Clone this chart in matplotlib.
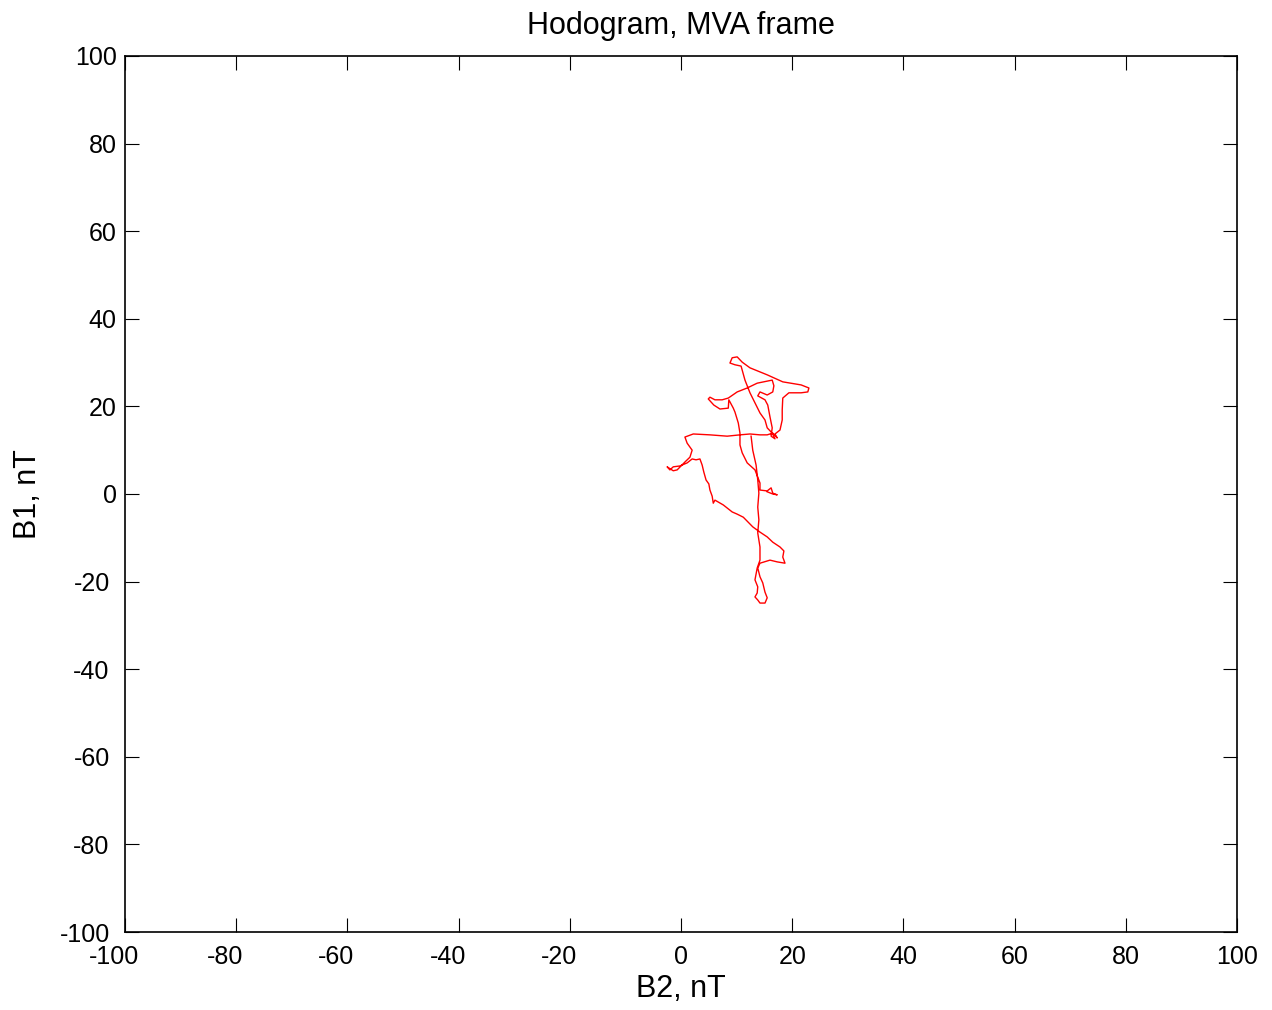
import matplotlib
matplotlib.use("Agg")
import matplotlib.pyplot as plt
import matplotlib.transforms as mtransforms

# hodogram trace in the MVA frame (nT)
b2 = [12.6, 12.9, 13.5, 13.8, 14.0, 13.8, 14.0, 13.8, 14.2, 14.2,
      13.7, 13.3, 13.8, 13.7, 13.3, 13.8, 14.2, 15.1, 15.5, 15.1,
      14.7, 14.2, 13.8, 14.2, 16.0, 17.3, 18.7, 18.3, 18.5, 17.8,
      16.5, 15.5, 14.2, 12.9, 11.2, 10.1, 9.2, 7.6, 6.1, 5.8,
      5.6, 5.2, 5.0, 4.5, 4.1, 3.8, 3.4, 2.7, 2.0, 1.1,
      -0.2, -1.4, -2.0, -2.5, -1.4, -0.7, 0.7, 1.6, 2.0, 1.1,
      0.7, 2.2, 5.2, 8.3, 10.6, 12.4, 14.2, 15.5, 16.5, 17.3,
      16.9, 17.8, 18.2, 18.2, 18.3, 19.4, 21.6, 22.8, 23.0, 21.6,
      18.3, 15.5, 12.4, 11.0, 10.1, 9.2, 8.8, 9.7, 10.8, 11.5,
      12.4, 13.3, 14.2, 15.1, 15.5, 16.4, 16.9, 16.2, 16.4, 16.0,
      15.6, 15.1, 13.8, 14.2, 15.5, 16.5, 16.7, 16.4, 13.7, 11.9,
      10.1, 8.5, 7.4, 6.1, 5.2, 4.9, 5.9, 7.0, 8.5, 8.6,
      9.4, 9.7, 10.3, 10.6, 10.6, 11.0, 11.9, 13.3, 14.2, 14.2,
      15.5, 16.2, 16.5, 17.3, 16.5, 15.5]
b1 = [13.2, 10.0, 6.6, 3.2, 0.2, -3.0, -5.9, -8.9, -12.1, -15.1,
      -16.9, -19.6, -21.2, -22.6, -23.5, -24.2, -24.9, -24.9, -23.7, -22.4,
      -20.3, -18.9, -16.9, -15.8, -15.1, -15.5, -15.8, -14.4, -13.0, -12.1,
      -11.0, -9.8, -8.7, -7.5, -5.3, -4.6, -4.1, -2.5, -1.4, -2.1,
      -0.5, 0.9, 2.3, 3.2, 5.0, 6.6, 8.0, 7.8, 8.0, 7.1,
      6.4, 6.2, 5.5, 6.2, 5.3, 5.5, 7.3, 8.4, 10.0, 11.6,
      13.0, 13.7, 13.5, 13.2, 13.5, 13.7, 13.5, 13.5, 13.9, 12.8,
      13.7, 14.6, 16.9, 19.2, 21.9, 23.1, 23.1, 23.3, 24.2, 24.9,
      25.6, 27.2, 28.8, 30.1, 31.3, 31.1, 29.9, 29.5, 29.2, 26.0,
      23.1, 20.8, 18.5, 16.9, 15.1, 13.9, 12.6, 13.2, 15.1, 17.6,
      20.3, 21.5, 22.4, 23.3, 22.6, 23.3, 24.7, 26.0, 25.3, 24.2,
      23.3, 21.9, 21.5, 21.5, 22.1, 21.7, 20.3, 19.4, 19.6, 21.5,
      19.6, 18.7, 16.2, 13.9, 11.2, 9.4, 7.1, 5.5, 2.5, 0.9,
      0.7, 1.4, 0.2, -0.2, 0.0, 0.5]

ticks = list(range(-100, 101, 20))

plt.rcParams['font.family'] = ['Liberation Sans', 'DejaVu Sans']
plt.rcParams['axes.unicode_minus'] = False

fig = plt.figure(figsize=(12.72, 10.10), dpi=100)
ax = fig.add_axes([0.0983, 0.0772, 0.8742, 0.8674])
ax.plot(b2, b1, color='red', linewidth=1.0)

ax.set_xlim(-100, 100)
ax.set_ylim(-100, 100)
ax.set_xticks(ticks)
ax.set_yticks(ticks)
ax.tick_params(direction='in', length=10, width=0.8, labelsize=18,
               top=True, right=True)
ax.tick_params(axis='x', pad=9)
ax.tick_params(axis='y', pad=6)
for s in ax.spines.values():
    s.set_linewidth(1.2)

# negative labels sit a bit to the left, like in the original
fig.canvas.draw()
for lab, t in zip(ax.get_xticklabels(), ticks):
    if t < 0:
        lab.set_transform(lab.get_transform() + mtransforms.ScaledTranslation(-0.11, 0, fig.dpi_scale_trans))
for lab, t in zip(ax.get_yticklabels(), ticks):
    if t < 0:
        lab.set_transform(lab.get_transform() + mtransforms.ScaledTranslation(-0.07, 0, fig.dpi_scale_trans))

ax.set_title("Hodogram, MVA frame", fontsize=22, pad=16)
ax.set_xlabel("B2, nT", fontsize=22, labelpad=4)
ax.set_ylabel("B1, nT", fontsize=22, labelpad=12)

fig.savefig("out.png", dpi=100)
